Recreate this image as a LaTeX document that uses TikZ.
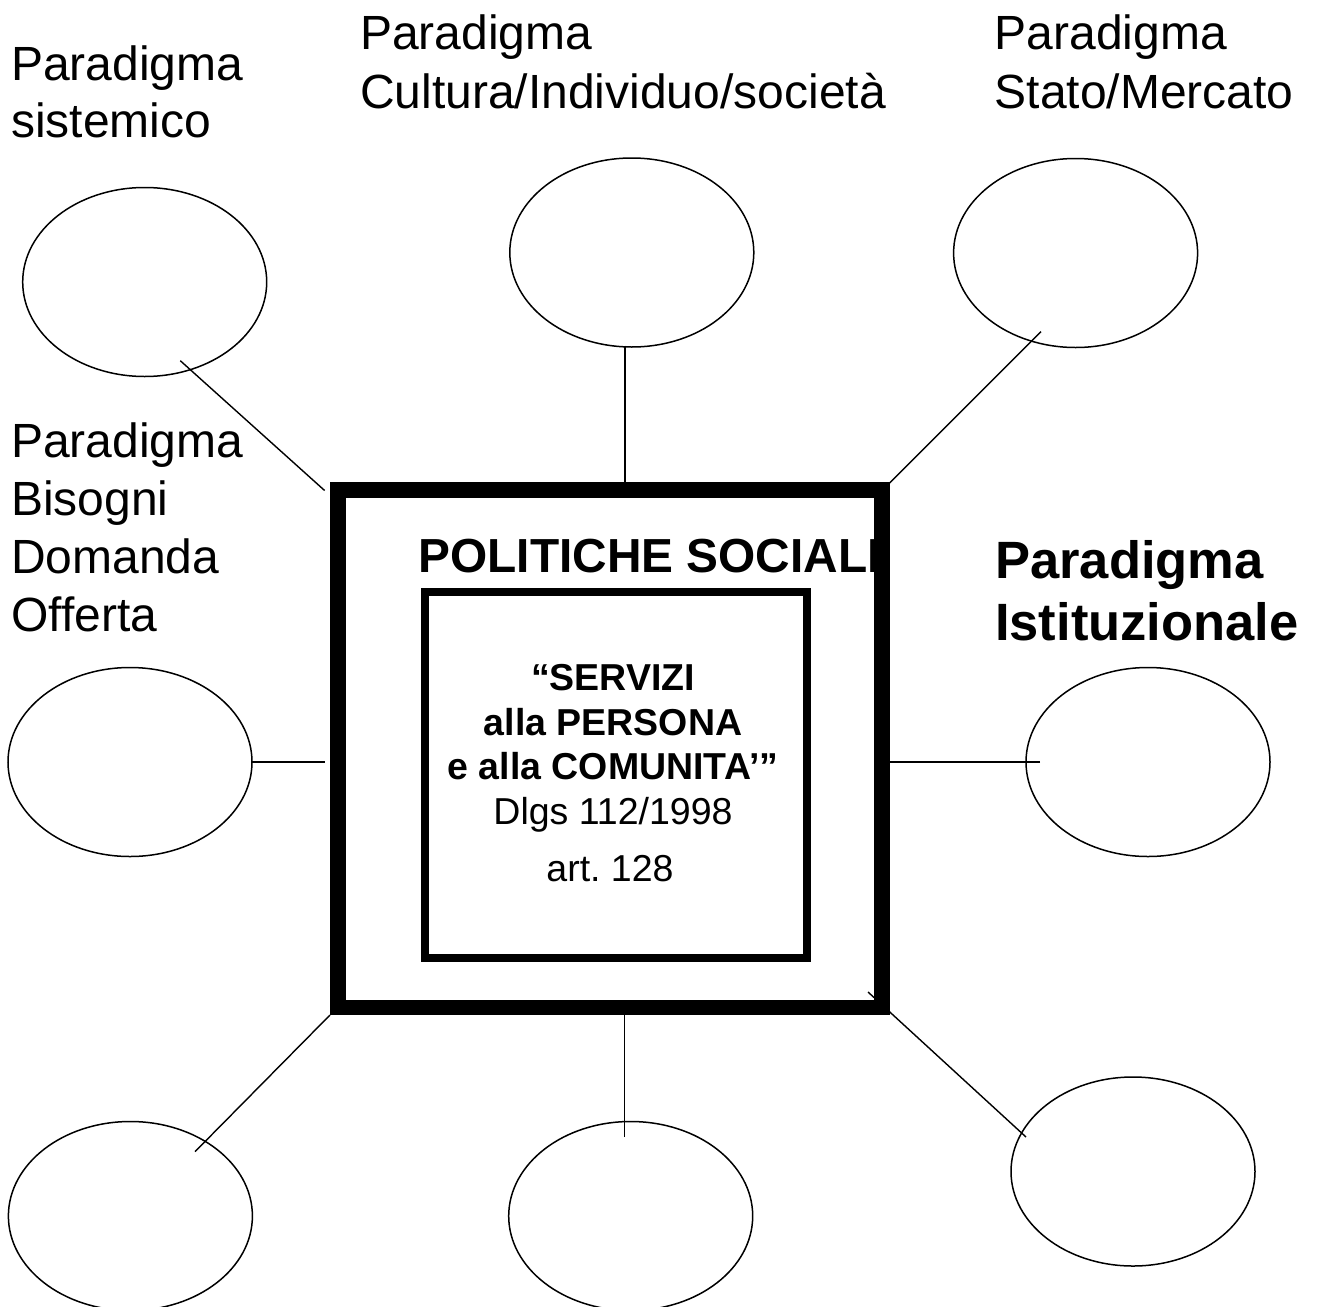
\documentclass[tikz,border=0pt]{standalone}
\usepackage{fontspec}
\setmainfont{Liberation Sans}
\usetikzlibrary{shapes.geometric}
\frenchspacing
\begin{document}
\begin{tikzpicture}[x=1pt,y=-1pt,
  bubble/.style={draw, ellipse, line width=1.5pt, minimum width=244pt, minimum height=189pt, inner sep=0pt},
  connector/.style={line width=1.4pt},
  plaintag/.style={anchor=base west, inner sep=0pt, font=\fontsize{48}{57}\selectfont},
  boldtag/.style={anchor=base west, inner sep=0pt, font=\bfseries\fontsize{52.5}{62}\selectfont},
  headline/.style={anchor=base west, inner sep=0pt, font=\bfseries\fontsize{47.8}{57}\selectfont},
  innerbold/.style={anchor=base, inner sep=0pt, font=\bfseries\fontsize{37.5}{45}\selectfont},
  innerplain/.style={anchor=base, inner sep=0pt, font=\fontsize{37.5}{45}\selectfont},
  boxframe/.style={draw, rectangle, inner sep=0pt}
]
\useasboundingbox (0,0) rectangle (1319,1306);

% surrounding ellipses
\node[bubble] (eTL) at (144.7,282) {};
\node[bubble] (eTC) at (631.8,252.5) {};
\node[bubble] (eTR) at (1075.6,253) {};
\node[bubble] (eML) at (130,762) {};
\node[bubble] (eMR) at (1148,762) {};
\node[bubble] (eBL) at (130.4,1216) {};
\node[bubble] (eBC) at (630.7,1216) {};
\node[bubble] (eBR) at (1133,1171.5) {};

% connector end points
\coordinate (aTL) at (180.3,360.7);  \coordinate (bTL) at (324.6,490.5);
\coordinate (aTC) at (624.8,345.5);  \coordinate (bTC) at (624.8,483);
\coordinate (aTR) at (1041,331.7);   \coordinate (bTR) at (889.6,483);
\coordinate (aML) at (252,762);      \coordinate (bML) at (325,762);
\coordinate (aMR) at (1040,762);     \coordinate (bMR) at (890,762);
\coordinate (aBL) at (195,1151.7);   \coordinate (bBL) at (330,1015);
\coordinate (aBC) at (624.5,1137);   \coordinate (bBC) at (624.5,1015);
\coordinate (aBR) at (1026,1137);    \coordinate (bBR) at (868,992);

\draw[connector] (aTL) -- (bTL);
\draw[connector] (aTC) -- (bTC);
\draw[connector] (aTR) -- (bTR);
\draw[connector] (aML) -- (bML);
\draw[connector] (aMR) -- (bMR);
\draw[connector] (aBL) -- (bBL);
\draw[connector] (aBC) -- (bBC);
\draw[connector] (aBR) -- (bBR);

% paradigm labels
\node[plaintag] (tSis1) at (11,81) {Paradigma};
\node[plaintag] (tSis2) at (11,137) {sistemico};
\node[plaintag] (tCul1) at (360,50) {Paradigma};
\node[plaintag] (tCul2) at (360,108) {Cultura/Individuo/società};
\node[plaintag] (tSta1) at (994.6,50) {Paradigma};
\node[plaintag] (tSta2) at (994.6,108) {Stato/Mercato};
\node[plaintag] (tBis1) at (11,457) {Paradigma};
\node[plaintag] (tBis2) at (11,515.5) {Bisogni};
\node[plaintag] (tBis3) at (11,573.5) {Domanda};
\node[plaintag] (tBis4) at (11,631) {Offerta};
\node[boldtag] (tIst1) at (995,578.4) {Paradigma};
\node[boldtag] (tIst2) at (995,640.5) {Istituzionale};

% central texts
\node[headline] (tPol) at (418.5,572) {POLITICHE SOCIALI};
\node[innerbold] (tSrv1) at (613,690) {“SERVIZI};
\node[innerbold] (tSrv2) at (613,735) {alla PERSONA};
\node[innerbold] (tSrv3) at (613,779) {e alla COMUNITA’”};
\node[innerplain] (tLaw1) at (613,824) {Dlgs 112/1998};
\node[innerplain] (tLaw2) at (610,881) {art. 128};

% central frames, drawn last so they cover line ends
\node[boxframe, line width=15.5pt, minimum width=544pt, minimum height=517.5pt] (outer) at (610,748.75) {};
\node[boxframe, line width=8pt, minimum width=381.7pt, minimum height=366pt] (inner) at (615.65,775) {};
\end{tikzpicture}
\end{document}
